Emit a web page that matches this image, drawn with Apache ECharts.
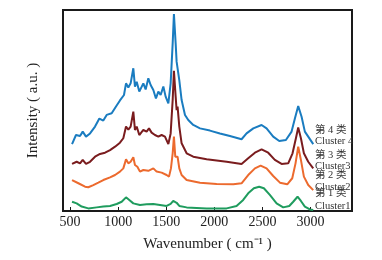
<!DOCTYPE html>
<html>
<head>
<meta charset="utf-8">
<script src="https://cdn.jsdelivr.net/npm/echarts@6/dist/echarts.min.js"></script>
<style>
  html, body { margin: 0; padding: 0; background: #fff; }
  #chart { width: 382px; height: 260px; }
</style>
</head>
<body>
<div id="chart"></div>
<script>
// x tick labels
var tickValues = [500, 1000, 1500, 2000, 2500, 3000]

// Cluster 4 (blue)
var c4X = [521, 562, 604, 632, 666, 708, 760, 805, 846, 881, 933, 978, 1019, 1061, 1082, 1106, 1130, 1158, 1175, 1193, 1220, 1262, 1286, 1314, 1338, 1366, 1393, 1418, 1442, 1470, 1494, 1522, 1546, 1567, 1580, 1598, 1608, 1618, 1636, 1660, 1695, 1729, 1781, 1851, 1954, 2058, 2162, 2283, 2335, 2405, 2491, 2543, 2612, 2675, 2744, 2803, 2838, 2872, 2907, 2941, 2976, 3028]
var c4Y = [33.3, 37.8, 37.3, 39.5, 37, 38.6, 42, 46, 45, 47.8, 48.6, 52, 55, 57.7, 63.5, 61.5, 63.5, 71, 61.9, 64.3, 59.4, 63.5, 60.5, 66, 62.7, 60.2, 56, 59.4, 57.7, 61.9, 56.9, 53.6, 63.5, 83.4, 98, 83.4, 74.3, 74.8, 65, 55.2, 47.8, 45.3, 42.8, 41.1, 40, 38.6, 37.3, 35.7, 38.6, 41.1, 42.8, 41.1, 37, 34.8, 35.3, 39.5, 46.1, 52.2, 46.9, 39.5, 37, 33.3]

// Cluster 3 (dark red)
var c3X = [521, 569, 604, 632, 666, 708, 760, 812, 864, 916, 968, 1019, 1054, 1082, 1106, 1130, 1158, 1175, 1193, 1220, 1262, 1296, 1321, 1348, 1383, 1418, 1452, 1487, 1522, 1546, 1567, 1580, 1598, 1608, 1618, 1636, 1660, 1712, 1781, 1920, 2128, 2283, 2352, 2422, 2491, 2560, 2629, 2699, 2768, 2813, 2848, 2872, 2900, 2931, 2976, 3028]
var c3Y = [23.4, 24.5, 23.7, 25.4, 23.4, 24.5, 27, 28.4, 29, 30.3, 32, 34, 36.2, 42, 40.5, 42, 49.4, 40.3, 42, 37.8, 40.3, 39.5, 41.1, 39, 37.8, 37, 37.8, 37, 33.3, 38.6, 55.2, 69.8, 56.9, 50.2, 51.9, 42, 33.7, 28.7, 27, 25.7, 24.5, 23.4, 26.2, 29, 30.7, 29, 25.4, 23.4, 23.7, 28.7, 36.2, 41.5, 36.2, 28.7, 24.5, 21.2]

// Cluster 2 (orange)
var c2X = [521, 587, 656, 690, 742, 794, 846, 916, 968, 1019, 1054, 1082, 1106, 1130, 1158, 1175, 1200, 1227, 1262, 1314, 1366, 1400, 1452, 1504, 1529, 1549, 1567, 1580, 1594, 1608, 1618, 1636, 1660, 1712, 1851, 2024, 2197, 2283, 2352, 2422, 2481, 2543, 2612, 2682, 2758, 2810, 2844, 2872, 2900, 2931, 2976, 3028]
var c2Y = [15.4, 13.8, 12.1, 11.8, 12.9, 14.1, 15.4, 16.7, 17.9, 19.6, 21.2, 25.7, 23.7, 24.5, 26.7, 22.9, 22, 19.6, 20.4, 20, 21.2, 19.6, 19.1, 17.9, 17.1, 21.2, 28.7, 37, 27, 26.2, 27, 21.2, 17.9, 15.4, 14.1, 13.4, 13.3, 13.8, 17.9, 21.2, 22.6, 21.2, 17.4, 14.1, 13.3, 16.3, 23.7, 32, 25.4, 17.1, 12.9, 10.4]

// Cluster 1 (green)
var c1X = [521, 569, 621, 690, 777, 846, 916, 985, 1037, 1082, 1116, 1158, 1227, 1296, 1366, 1435, 1504, 1546, 1573, 1591, 1608, 1636, 1712, 1920, 2128, 2231, 2300, 2352, 2411, 2466, 2515, 2577, 2647, 2716, 2779, 2820, 2865, 2900, 2941, 2993, 3028]
var c1Y = [4.6, 3.8, 2.2, 1.3, 1.8, 2.2, 2.5, 3.5, 4.6, 6.8, 5.5, 3.8, 3, 3.3, 3.5, 3, 2.5, 3.5, 5, 4.1, 4.1, 2.5, 1.8, 1.3, 1.3, 2.5, 5.5, 8.8, 11.3, 12.1, 11.3, 8, 3.8, 1.8, 2.5, 4.6, 7.1, 5, 2.2, 0.8, 0.5]

var seriesNames = ['Cluster 4', 'Cluster 3', 'Cluster 2', 'Cluster 1']
var seriesColors = ['#1a7cc0', '#7a1c1e', '#ec6a2e', '#1f9c5e']
var seriesX = [c4X, c3X, c2X, c1X]
var seriesY = [c4Y, c3Y, c2Y, c1Y]

// right side labels: [text, top(px)]
var sideLabels = [
  ['第 4 类', 131], ['Cluster 4', 142],
  ['第 3 类', 156], ['Cluster3', 167],
  ['第 2 类', 176], ['Cluster2', 188],
  ['第 1 类', 194], ['Cluster1', 207],
]

var fontFam = "'Liberation Serif', 'Noto Sans CJK SC', serif"

function pairs(xs, ys) {
  return xs.map(function (x, i) { return [x, ys[i]] })
}

var myChart = echarts.init(document.getElementById('chart'), null, { renderer: 'canvas' })

var option = {
  animation: false,
  backgroundColor: '#fff',
  grid: {
    left: 63,
    right: 30,
    top: 10,
    bottom: 49,
    show: true,
    borderColor: '#1a1a1a',
    borderWidth: 2,
  },
  xAxis: {
    type: 'value',
    min: 427,
    max: 3431,
    name: 'Wavenumber ( cm⁻¹ )',
    nameLocation: 'middle',
    nameGap: 26,
    nameTextStyle: { fontFamily: fontFam, fontSize: 15, color: '#222' },
    axisLine: { show: true, lineStyle: { color: '#1a1a1a', width: 2 } },
    axisTick: {
      show: true,
      inside: true,
      length: 4,
      customValues: tickValues,
      lineStyle: { color: '#1a1a1a', width: 1 },
    },
    axisLabel: {
      show: true,
      margin: 4,
      customValues: tickValues,
      formatter: function (v) { return String(v) },
      fontFamily: fontFam,
      fontSize: 14,
      color: '#222',
    },
    splitLine: { show: false },
  },
  yAxis: {
    type: 'value',
    min: 0,
    max: 100,
    name: 'Intensity ( a.u. )',
    nameLocation: 'middle',
    nameGap: 22,
    nameTextStyle: { fontFamily: fontFam, fontSize: 15, color: '#222' },
    axisLine: { show: false },
    axisTick: { show: false },
    axisLabel: { show: false },
    splitLine: { show: false },
  },
  series: seriesNames.map(function (name, i) {
    return {
      name: name,
      type: 'line',
      showSymbol: false,
      smooth: false,
      lineStyle: { color: seriesColors[i], width: 2 },
      itemStyle: { color: seriesColors[i] },
      data: pairs(seriesX[i], seriesY[i]),
    }
  }),
  graphic: sideLabels.map(function (item) {
    return {
      type: 'text',
      left: 315,
      top: item[1] - 6,
      z: 10,
      style: {
        text: item[0],
        fontFamily: fontFam,
        fontSize: 10.5,
        fill: '#333',
      },
    }
  }),
}

myChart.setOption(option)
</script>
</body>
</html>
